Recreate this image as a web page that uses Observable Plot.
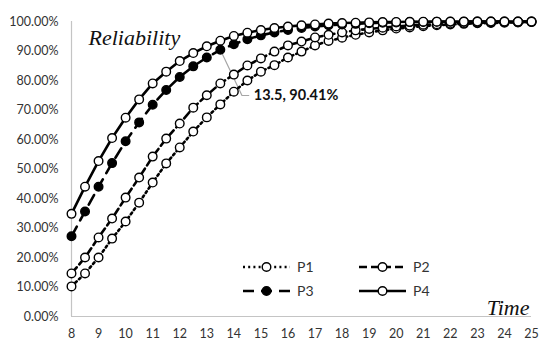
<!DOCTYPE html>
<html>
<head>
<meta charset="utf-8">
<script src="https://cdn.jsdelivr.net/npm/d3@7"></script>
<script src="https://cdn.jsdelivr.net/npm/@observablehq/plot@0.6"></script>
<style>
  html, body { margin: 0; padding: 0; background: #fff; }
  #wrap { position: relative; width: 550px; height: 350px; }
  #legend { position: absolute; left: 0; top: 0; }
</style>
</head>
<body>
<div id="wrap"></div>
<script>
const times = [8, 8.5, 9, 9.5, 10, 10.5, 11, 11.5, 12, 12.5, 13, 13.5, 14, 14.5, 15, 15.5, 16, 16.5, 17, 17.5, 18, 18.5, 19, 19.5, 20, 20.5, 21, 21.5, 22, 22.5, 23, 23.5, 24, 24.5, 25];
const P1 = [0.102, 0.146, 0.200, 0.264, 0.322, 0.386, 0.454, 0.519, 0.573, 0.627, 0.675, 0.719, 0.762, 0.800, 0.830, 0.852, 0.878, 0.898, 0.919, 0.934, 0.945, 0.955, 0.963, 0.970, 0.976, 0.980, 0.984, 0.987, 0.990, 0.992, 0.994, 0.995, 0.996, 0.997, 0.998];
const P2 = [0.146, 0.200, 0.268, 0.332, 0.403, 0.471, 0.542, 0.603, 0.654, 0.708, 0.750, 0.790, 0.820, 0.851, 0.875, 0.898, 0.919, 0.932, 0.946, 0.955, 0.963, 0.970, 0.975, 0.979, 0.983, 0.986, 0.989, 0.991, 0.993, 0.995, 0.996, 0.997, 0.998, 0.998, 0.999];
const P3 = [0.272, 0.356, 0.440, 0.520, 0.594, 0.658, 0.718, 0.768, 0.812, 0.848, 0.878, 0.9041, 0.923, 0.940, 0.953, 0.963, 0.971, 0.978, 0.983, 0.987, 0.990, 0.992, 0.994, 0.996, 0.997, 0.998, 0.9985, 0.999, 0.9993, 0.9995, 0.9996, 0.9997, 0.9998, 0.9999, 0.9999];
const P4 = [0.348, 0.440, 0.527, 0.605, 0.674, 0.736, 0.790, 0.830, 0.866, 0.893, 0.916, 0.935, 0.951, 0.962, 0.971, 0.978, 0.983, 0.987, 0.990, 0.993, 0.995, 0.996, 0.997, 0.998, 0.9985, 0.999, 0.9993, 0.9995, 0.9996, 0.9997, 0.9998, 0.9998, 0.9999, 0.9999, 0.9999];
const seriesNames = ["P1", "P2", "P3", "P4"];
const yTicks = [0, 0.1, 0.2, 0.3, 0.4, 0.5, 0.6, 0.7, 0.8, 0.9, 1.0];
const xTicks = [8, 9, 10, 11, 12, 13, 14, 15, 16, 17, 18, 19, 20, 21, 22, 23, 24, 25];
const annotated = {series: "P3", time: 13.5};
const yTitle = "Reliability";
const xTitle = "Time";

const seriesData = {P1, P2, P3, P4};
const styles = {
  P1: {dash: "2,3.2", fill: "white"},
  P2: {dash: "8,4", fill: "white"},
  P3: {dash: "11,7", fill: "black"},
  P4: {dash: null, fill: "white"}
};
const rows = seriesNames.map(name => times.map((t, i) => ({series: name, t, v: seriesData[name][i]})));

const annIdx = times.indexOf(annotated.time);
const annVal = seriesData[annotated.series][annIdx];
const annLabel = `${annotated.time}, ${d3.format(".2%")(annVal)}`;
const leader = [
  {t: annotated.time, v: annVal},
  {t: annotated.time + 0.8, v: annVal - 0.155},
  {t: annotated.time + 1.05, v: annVal - 0.155}
];

const fontSans = "Lato, 'Open Sans', sans-serif";
const marks = [
  Plot.ruleX([8], {y1: 0, y2: 1, stroke: "#c4c4c4", strokeWidth: 1.2}),
  Plot.ruleY([0], {x1: 8, x2: 25, stroke: "#c4c4c4", strokeWidth: 1.2}),
  Plot.axisY(yTicks, {tickSize: 0, tickPadding: 13, tickFormat: d3.format(".2%"), fontSize: 12.5, fill: "#333", label: null}),
  Plot.axisX(xTicks, {tickSize: 0, tickPadding: 13, tickFormat: d => String(d), fontSize: 12.5, fill: "#333", label: null}),
  Plot.line(leader, {x: "t", y: "v", stroke: "#a6a6a6", strokeWidth: 1.2}),
  Plot.text([annLabel], {x: leader[2].t, y: leader[2].v, text: d => d, textAnchor: "start", dx: 5, fontWeight: "bold", fontSize: 14.5, fill: "#111"})
];
rows.forEach((data, k) => {
  const st = styles[seriesNames[k]];
  marks.push(Plot.line(data, {x: "t", y: "v", stroke: "black", strokeWidth: 2.6, strokeDasharray: st.dash, curve: "linear"}));
  marks.push(Plot.dot(data, {x: "t", y: "v", r: 4.3, fill: st.fill, stroke: "black", strokeWidth: 1.4}));
});
marks.push(Plot.text([yTitle], {frameAnchor: "top-left", textAnchor: "start", lineAnchor: "top", dx: 17, dy: 8, fontFamily: "'Liberation Serif', serif", fontStyle: "italic", fontSize: 22, fill: "#111"}));
marks.push(Plot.text([xTitle], {frameAnchor: "bottom-right", textAnchor: "end", lineAnchor: "bottom", dx: -2, dy: -2, fontFamily: "'Liberation Serif', serif", fontStyle: "italic", fontSize: 22, fill: "#111"}));

const chart = Plot.plot({
  width: 550,
  height: 350,
  marginLeft: 71,
  marginRight: 19,
  marginTop: 21,
  marginBottom: 34,
  style: {fontFamily: fontSans, background: "white"},
  x: {domain: [8, 25], label: null},
  y: {domain: [0, 1], label: null},
  marks
});
const wrap = document.getElementById("wrap");
wrap.appendChild(chart);

// Legend overlay
const leg = d3.select(wrap).append("svg").attr("id", "legend").attr("width", 550).attr("height", 350);
const legendItems = [
  {name: "P1", x: 243, y: 267},
  {name: "P2", x: 359, y: 267},
  {name: "P3", x: 243, y: 291},
  {name: "P4", x: 359, y: 291}
];
legendItems.forEach(it => {
  const st = styles[it.name];
  const g = leg.append("g").attr("transform", `translate(${it.x},${it.y})`);
  g.append("line").attr("x1", 0).attr("x2", 47).attr("y1", 0).attr("y2", 0)
    .attr("stroke", "black").attr("stroke-width", 2.6)
    .attr("stroke-dasharray", st.dash || null);
  g.append("circle").attr("cx", 23.5).attr("cy", 0).attr("r", 4.3)
    .attr("fill", st.fill).attr("stroke", "black").attr("stroke-width", 1.4);
  g.append("text").attr("x", 54).attr("y", 0).attr("dy", "0.35em")
    .attr("font-family", fontSans).attr("font-size", 14).attr("fill", "#333").text(it.name);
});
</script>
</body>
</html>
